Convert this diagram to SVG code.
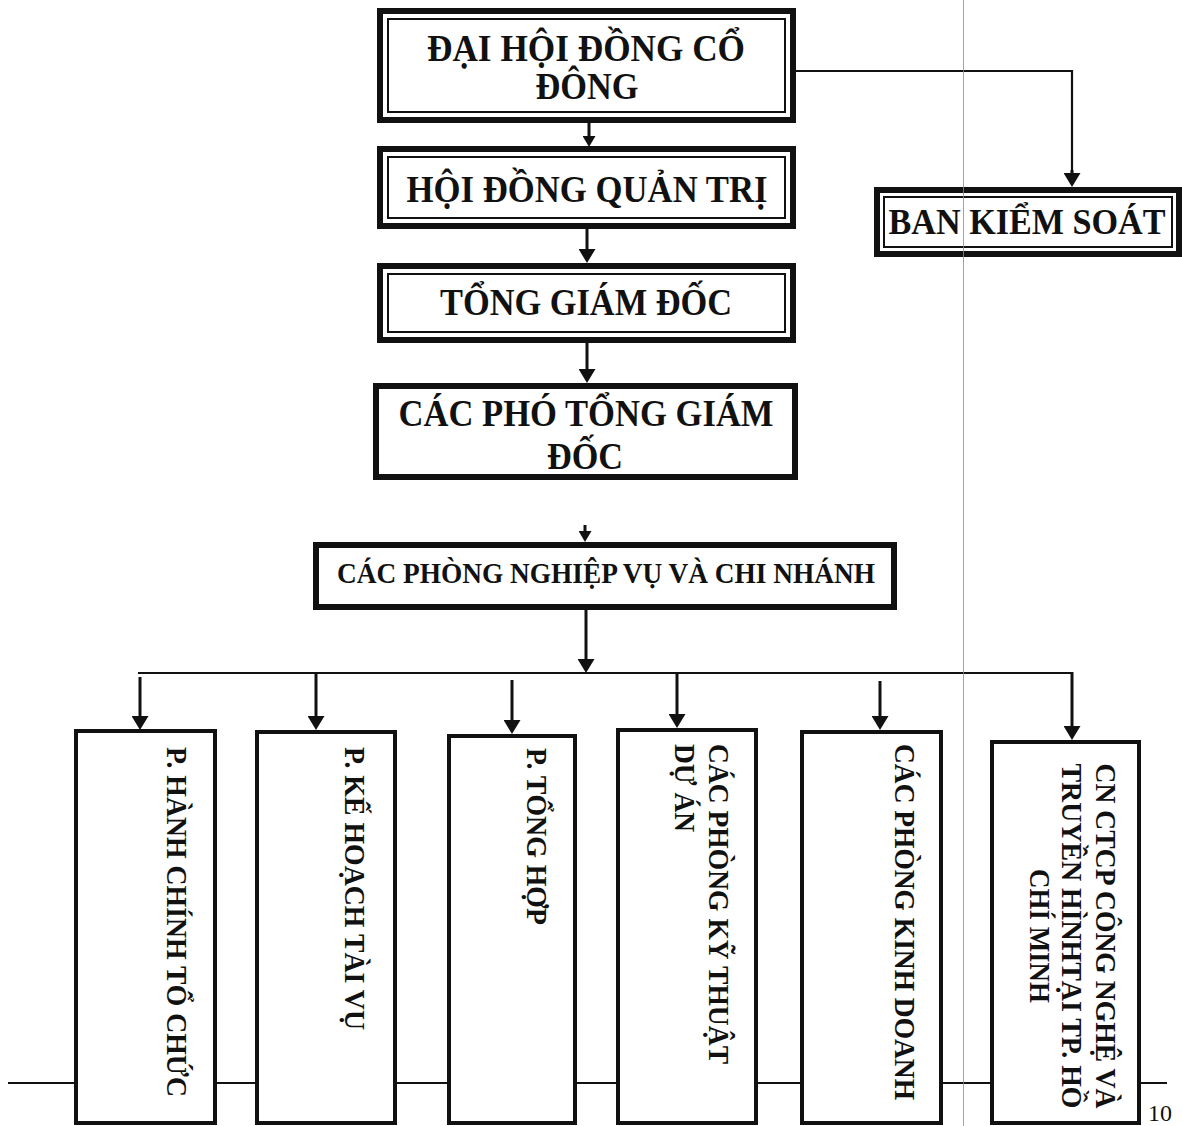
<svg xmlns="http://www.w3.org/2000/svg" width="1182" height="1126" viewBox="0 0 1182 1126">
  <defs>
    <style>
      .bg { fill: #ffffff; }
      .outer { fill: #ffffff; stroke: #111111; stroke-width: 6; }
      .inner { fill: none; stroke: #111111; stroke-width: 2; }
      .vbox { fill: #ffffff; stroke: #111111; stroke-width: 4; }
      .lbl { font-family: "Liberation Serif", "Times New Roman", serif; font-weight: bold; fill: #111111; }
      .big { font-size: 38px; text-anchor: middle; }
      .mid { font-size: 29px; text-anchor: middle; }
      .vt { font-size: 28.5px; }
      .conn { fill: none; stroke: #111111; stroke-width: 2.2; }
      .arr { fill: none; stroke: #111111; stroke-width: 3; marker-end: url(#ah); }
      .arrs { fill: none; stroke: #111111; stroke-width: 3; marker-end: url(#ahs); }
      .page { font-family: "Liberation Serif", "Times New Roman", serif; font-size: 24px; fill: #111111; }
    </style>
    <marker id="ah" markerUnits="userSpaceOnUse" markerWidth="16" markerHeight="17" refX="4" refY="8.5" orient="auto">
      <path d="M0,0 L14,8.5 L0,17 z" fill="#111111"/>
    </marker>
    <marker id="ahs" markerUnits="userSpaceOnUse" markerWidth="12" markerHeight="13" refX="3" refY="6.5" orient="auto">
      <path d="M0,0 L11,6.5 L0,13 z" fill="#111111"/>
    </marker>
  </defs>

  <rect class="bg" x="0" y="0" width="1182" height="1126"/>

  <!-- bottom baseline line behind boxes -->
  <line class="conn" x1="8" y1="1083" x2="1167" y2="1083"/>

  <g id="connectors">
    <line class="arrs" x1="589" y1="123" x2="589" y2="139"/>
    <line class="arr" x1="587" y1="229" x2="587" y2="253"/>
    <line class="arr" x1="587" y1="343" x2="587" y2="373"/>
    <line class="arrs" x1="585" y1="525" x2="585" y2="534"/>
    <line class="arr" x1="586" y1="610" x2="586" y2="663"/>
    <polyline class="conn" points="796,71 1072,71 1072,176"/>
    <line class="arr" x1="1072" y1="170" x2="1072" y2="177"/>
    <line class="conn" x1="138" y1="673" x2="1073" y2="673"/>
    <line class="arr" x1="140" y1="677" x2="140" y2="720"/>
    <line class="arr" x1="316" y1="673" x2="316" y2="720"/>
    <line class="arr" x1="512" y1="680" x2="512" y2="724"/>
    <line class="arr" x1="677" y1="673" x2="677" y2="718"/>
    <line class="arr" x1="880" y1="681" x2="880" y2="720"/>
    <line class="arr" x1="1072" y1="672" x2="1072" y2="730"/>
  </g>

  <g id="dhdcd">
    <rect class="outer" x="380" y="11" width="413" height="109"/>
    <rect class="inner" x="388" y="19" width="397" height="93"/>
    <text class="lbl big" x="586" y="61" textLength="318" lengthAdjust="spacingAndGlyphs">ĐẠI HỘI ĐỒNG CỔ</text>
    <text class="lbl big" x="587" y="99" textLength="103" lengthAdjust="spacingAndGlyphs">ĐÔNG</text>
  </g>

  <g id="hdqt">
    <rect class="outer" x="380" y="149" width="413" height="77"/>
    <rect class="inner" x="388" y="157" width="397" height="61"/>
    <text class="lbl big" x="587" y="202" textLength="361" lengthAdjust="spacingAndGlyphs">HỘI ĐỒNG QUẢN TRỊ</text>
  </g>

  <g id="tgd">
    <rect class="outer" x="380" y="266" width="413" height="74"/>
    <rect class="inner" x="388" y="274" width="397" height="58"/>
    <text class="lbl big" x="586" y="315" textLength="292" lengthAdjust="spacingAndGlyphs">TỔNG GIÁM ĐỐC</text>
  </g>

  <g id="bks">
    <rect class="outer" x="877" y="190" width="302" height="64"/>
    <rect class="inner" x="884" y="197" width="288" height="50"/>
    <text class="lbl" x="1027" y="234" font-size="35" text-anchor="middle" textLength="277" lengthAdjust="spacingAndGlyphs">BAN KIỂM SOÁT</text>
  </g>

  <g id="ptgd">
    <rect class="outer" x="376" y="386" width="419" height="91"/>
    <text class="lbl big" x="586" y="426" textLength="375" lengthAdjust="spacingAndGlyphs">CÁC PHÓ TỔNG GIÁM</text>
    <text class="lbl big" x="585" y="469" textLength="76" lengthAdjust="spacingAndGlyphs">ĐỐC</text>
  </g>

  <g id="pnv">
    <rect class="outer" x="316" y="545" width="578" height="62"/>
    <text class="lbl mid" x="606" y="583" textLength="538" lengthAdjust="spacingAndGlyphs">CÁC PHÒNG NGHIỆP VỤ VÀ CHI NHÁNH</text>
  </g>

  <g id="p-hcth">
    <rect class="vbox" x="76" y="731" width="139" height="392"/>
    <text class="lbl vt" transform="translate(167,747) rotate(90)" textLength="350" lengthAdjust="spacingAndGlyphs">P. HÀNH CHÍNH TỔ CHỨC</text>
  </g>

  <g id="p-khtv">
    <rect class="vbox" x="257" y="732" width="138" height="391"/>
    <text class="lbl vt" transform="translate(345,747) rotate(90)" textLength="283" lengthAdjust="spacingAndGlyphs">P. KẾ HOẠCH TÀI VỤ</text>
  </g>

  <g id="p-th">
    <rect class="vbox" x="449" y="736" width="126" height="387"/>
    <text class="lbl vt" transform="translate(527,748) rotate(90)" textLength="177" lengthAdjust="spacingAndGlyphs">P. TỔNG HỢP</text>
  </g>

  <g id="p-ktda">
    <rect class="vbox" x="618" y="730" width="138" height="393"/>
    <text class="lbl vt" transform="translate(709,744) rotate(90)" textLength="320" lengthAdjust="spacingAndGlyphs">CÁC PHÒNG KỸ THUẬT</text>
    <text class="lbl vt" transform="translate(675,744) rotate(90)" textLength="88" lengthAdjust="spacingAndGlyphs">DỰ ÁN</text>
  </g>

  <g id="p-kd">
    <rect class="vbox" x="802" y="732" width="139" height="391"/>
    <text class="lbl vt" transform="translate(895,744) rotate(90)" textLength="356" lengthAdjust="spacingAndGlyphs">CÁC PHÒNG KINH DOANH</text>
  </g>

  <g id="cn-hcm">
    <rect class="vbox" x="992" y="742" width="147" height="381"/>
    <text class="lbl vt" text-anchor="middle" transform="translate(1096,936) rotate(90)" textLength="345" lengthAdjust="spacingAndGlyphs">CN CTCP CÔNG NGHỆ VÀ</text>
    <text class="lbl vt" text-anchor="middle" transform="translate(1062,936) rotate(90)" textLength="345" lengthAdjust="spacingAndGlyphs">TRUYỀN HÌNHTẠI TP. HỒ</text>
    <text class="lbl vt" text-anchor="middle" transform="translate(1030,936) rotate(90)" textLength="134" lengthAdjust="spacingAndGlyphs">CHÍ MINH</text>
  </g>

  <text class="page" x="1148" y="1121">10</text>

  <line x1="963.5" y1="0" x2="963.5" y2="1126" stroke="#b87878" stroke-width="1" opacity="0.8"/>
</svg>
